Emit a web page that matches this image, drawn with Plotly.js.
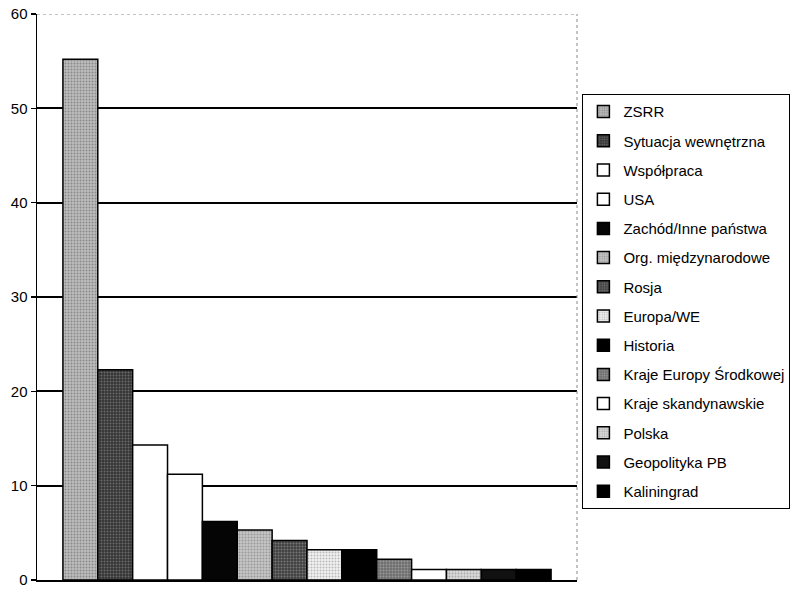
<!DOCTYPE html>
<html>
<head>
<meta charset="utf-8">
<script src="https://cdn.plot.ly/plotly-3.0.1.min.js"></script>
<style>html,body{margin:0;padding:0;background:#fff;}#chart{width:803px;height:589px;}</style>
</head>
<body>
<div id="chart"></div>
<script>
const seriesNames = ["ZSRR","Sytuacja wewnętrzna","Współpraca","USA","Zachód/Inne państwa","Org. międzynarodowe","Rosja","Europa/WE","Historia","Kraje Europy Środkowej","Kraje skandynawskie","Polska","Geopolityka PB","Kaliningrad"];
const seriesValues = [55.2, 22.3, 14.3, 11.2, 6.2, 5.3, 4.2, 3.2, 3.2, 2.2, 1.1, 1.1, 1.1, 1.1];
const fillColors = ["#bdbdbd","#353535","#ffffff","#ffffff","#050505","#c6c6c6","#404040","#f2f2f2","#000000","#6e6e6e","#ffffff","#dadada","#111111","#000000"];
const dotColors = ["#8a8a8a","#6a6a6a",null,null,null,"#999999","#777777","#bbbbbb",null,"#9a9a9a",null,"#aaaaaa",null,null];
const yTicks = [0,10,20,30,40,50,60];

const traces = seriesNames.map((name, i) => {
  const marker = {color: fillColors[i], line: {color: "#000", width: 1.5}};
  if (dotColors[i]) {
    marker.pattern = {shape: ".", bgcolor: fillColors[i], fgcolor: dotColors[i], size: 3, solidity: 0.35};
  }
  return {type: "bar", name: name, x: [""], y: [seriesValues[i]], marker: marker, legendgroup: "g" + i, hoverinfo: "name+y"};
});

const layout = {
  width: 803, height: 589,
  margin: {l: 37, r: 226, t: 14, b: 9},
  paper_bgcolor: "#fff", plot_bgcolor: "#fff",
  font: {family: "Liberation Sans, Arial, sans-serif", color: "#000", size: 14},
  barmode: "group", bargap: 0.096, bargroupgap: 0,
  xaxis: {showticklabels: false, ticks: "", showgrid: false, zeroline: false, showline: true, linecolor: "#000", linewidth: 1.5, fixedrange: true},
  yaxis: {range: [0, 60], tickvals: yTicks, ticktext: yTicks.map(String), ticks: "outside", ticklen: 5, tickwidth: 1.5, tickcolor: "#000",
          showline: true, linecolor: "#000", linewidth: 1.5, showgrid: true, gridcolor: "#000", gridwidth: 2, zeroline: false,
          tickfont: {size: 15}, ticklabeloverflow: "allow", fixedrange: true},
  showlegend: true,
  legend: {x: 1.01, xanchor: "left", y: 0.858, yanchor: "top", bordercolor: "#000", borderwidth: 1, bgcolor: "#fff",
           font: {size: 15}, traceorder: "grouped", tracegroupgap: 6.7, itemwidth: 30},
  shapes: [
    {type: "line", xref: "paper", yref: "y", x0: 0, x1: 1, y0: 60, y1: 60, line: {color: "#fff", width: 4}, layer: "above"},
    {type: "line", xref: "paper", yref: "y", x0: 0, x1: 1, y0: 60, y1: 60, line: {color: "#888", width: 1, dash: "dot"}, layer: "above"},
    {type: "line", xref: "paper", yref: "paper", x0: 1, x1: 1, y0: 0, y1: 1, line: {color: "#888", width: 1, dash: "dot"}, layer: "above"}
  ]
};

Plotly.newPlot("chart", traces, layout, {displayModeBar: false, staticPlot: true});
</script>
</body>
</html>
